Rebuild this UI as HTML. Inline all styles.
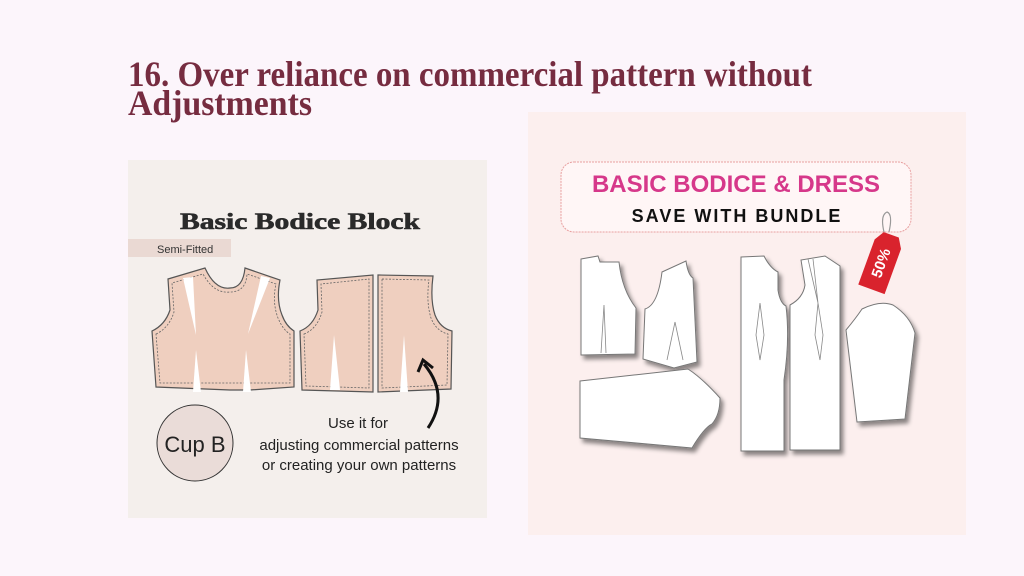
<!DOCTYPE html>
<html><head><meta charset="utf-8"><style>
html,body{margin:0;padding:0;background:#fcf5fb;width:1024px;height:576px;overflow:hidden}
svg{display:block}
</style></head><body>
<svg width="1024" height="576" viewBox="0 0 1024 576" xmlns="http://www.w3.org/2000/svg">
<defs>
<filter id="sh" x="-20%" y="-20%" width="150%" height="150%"><feDropShadow dx="3" dy="4" stdDeviation="2" flood-color="#000" flood-opacity="0.45"/></filter>
</defs>
<rect width="1024" height="576" fill="#fcf5fb"/>
<g font-family="Liberation Serif, serif" font-weight="bold" fill="#762c40" font-size="36">
<text x="128" y="86" textLength="684" lengthAdjust="spacingAndGlyphs">16. Over reliance on commercial pattern without</text>
<text x="128" y="115" textLength="184" lengthAdjust="spacingAndGlyphs">Adjustments</text>
</g>

<!-- left image -->
<rect x="128" y="160" width="359" height="358" fill="#f4efec"/>
<text x="180" y="229" textLength="240" lengthAdjust="spacingAndGlyphs" font-family="Liberation Serif, serif" font-weight="bold" font-size="23" fill="#2a2a2a" stroke="#2a2a2a" stroke-width="0.6">Basic Bodice Block</text>
<rect x="128" y="239" width="103" height="18" fill="#ead9d3"/>
<text x="157" y="253" font-family="Liberation Sans, sans-serif" font-size="11" fill="#333">Semi-Fitted</text>
<g fill="#efcfbf" stroke="#555" stroke-width="1.2">
<path d="M152,331 Q165,325 170,310 L168,279 L205,268 Q215,290 230,288 Q243,288 245,268 L280,280 Q276,300 282,315 Q286,326 294,331 L294,387 L250,390 L230,390 L156,387 Z"/>
<path d="M300,331 Q313,326 318,310 L317,280 L373,275 L373,392 L302,390 Z"/>
<path d="M378,275 L433,276 Q430,300 435,315 Q440,328 452,331 L451,389 L378,392 Z"/>
</g>
<g fill="none" stroke="#666" stroke-width="0.8" stroke-dasharray="2,1.5">
<path d="M156,334 Q169,328 174,312 L172,283 L203,274 Q214,294 230,292 Q246,292 247,274 L276,284 Q272,302 278,318 Q283,330 290,334 L290,383 L160,383 Z"/>
<path d="M304,334 Q317,329 322,312 L321,284 L369,279 L369,388 L306,386 Z"/>
<path d="M382,279 L429,280 Q426,302 431,318 Q436,331 448,334 L447,385 L382,388 Z"/>
</g>
<g fill="#fff"><path d="M183,278 L193,277 L196,335 Z"/><path d="M261,276 L270,278 L248,334 Z"/>
<path d="M196,350 L201,392 L193,392 Z"/><path d="M246,350 L251,392 L243,392 Z"/>
<path d="M334,335 L340,390 L330,390 Z"/><path d="M404,335 L408,392 L400,392 Z"/></g>
<circle cx="195" cy="443" r="38" fill="#eadcd8" stroke="#333" stroke-width="1"/>
<text x="195" y="452" text-anchor="middle" font-family="Liberation Sans, sans-serif" font-size="22" fill="#222">Cup B</text>
<path d="M428,428 Q450,395 424,364" fill="none" stroke="#111" stroke-width="3"/>
<path d="M418,372 L423,360 L433,368" fill="none" stroke="#111" stroke-width="3"/>
<g font-family="Liberation Sans, sans-serif" font-size="15" fill="#222" text-anchor="middle">
<text x="358" y="428">Use it for</text>
<text x="359" y="450">adjusting commercial patterns</text>
<text x="359" y="470">or creating your own patterns</text>
</g>

<!-- right image -->
<rect x="528" y="112" width="438" height="423" fill="#fcefee"/>
<rect x="561" y="162" width="350" height="70" rx="13" fill="#fff6f6" stroke="#e8a0a0" stroke-width="1" stroke-dasharray="2,1"/>
<text x="736" y="192" text-anchor="middle" font-family="Liberation Sans, sans-serif" font-weight="bold" font-size="24" fill="#d6388a">BASIC BODICE &amp; DRESS</text>
<text x="737" y="222" text-anchor="middle" font-family="Liberation Sans, sans-serif" font-weight="bold" font-size="18" letter-spacing="2" fill="#111">SAVE WITH BUNDLE</text>
<path d="M884,232 Q880,215 887,212 Q893,214 889,232" fill="none" stroke="#999" stroke-width="1.2"/>
<g transform="translate(881,263) rotate(20)"><path d="M-8,-30 L8,-30 L14,-20 L14,28 L-14,28 L-14,-20 Z" fill="#d9232d"/>
<text x="0" y="0" transform="rotate(-90)" text-anchor="middle" font-family="Liberation Sans, sans-serif" font-weight="bold" font-size="15" fill="#fff" dy="5">50%</text></g>
<g fill="#fff" stroke="#777" stroke-width="1" filter="url(#sh)">
<path d="M581,259 L598,256 L600,262 L619,262 Q622,290 636,308 L635,354 L581,355 Z"/>
<path d="M662,272 L686,261 Q688,275 693,278 L697,362 L674,368 L643,359 L645,309 Q658,305 662,272 Z"/>
<path d="M580,381 L688,369 Q702,378 720,398 Q720,415 712,424 Q704,428 692,448 L580,438 Z"/>
<path d="M741,257 L764,256 Q770,268 778,272 L778,290 Q780,303 786,306 Q790,340 784,380 L784,451 L741,451 Z"/>
<path d="M790,305 Q803,298 805,285 L801,260 L825,256 L840,266 L840,450 L790,450 Z"/>
<path d="M862,309 Q880,300 893,305 Q910,316 915,333 L905,419 L857,422 L846,330 Q856,318 862,309 Z"/>
</g>
<g fill="none" stroke="#888" stroke-width="0.8">
<path d="M604,305 L606,353 M604,305 L601,353"/>
<path d="M675,322 L667,360 M675,322 L683,360"/>
<path d="M760,303 L764,335 L760,360 L756,335 Z"/>
<path d="M818,303 L823,335 L820,360 L815,335 Z"/>
<path d="M808,259 L818,303 M813,259 L818,303"/>
</g>
</svg>
</body></html>
